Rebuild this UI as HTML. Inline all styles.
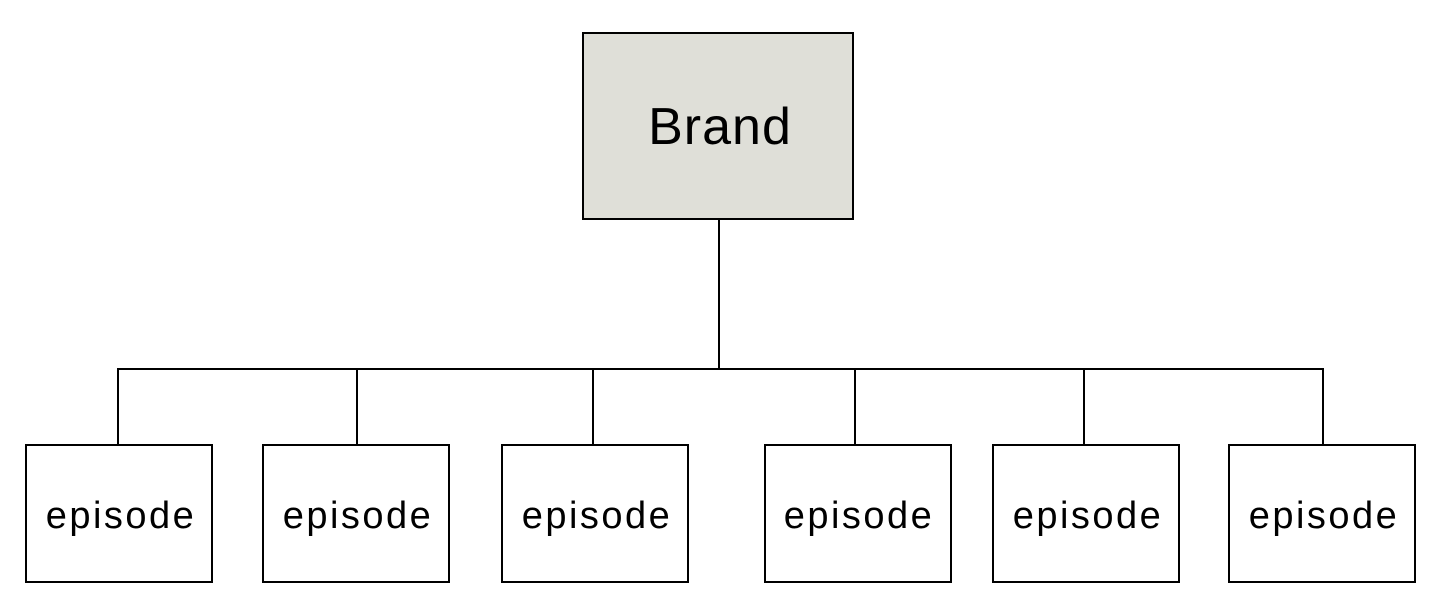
<!DOCTYPE html>
<html><head><style>
html,body{margin:0;padding:0;background:#fff;width:1434px;height:616px;overflow:hidden}
svg{display:block}
text{font-family:"Liberation Sans",sans-serif;fill:#000}
</style></head><body>
<svg width="1434" height="616" viewBox="0 0 1434 616">
<g stroke="#000" stroke-width="2" fill="none">
<rect x="583" y="33" width="270" height="186" fill="#dfdfd8"/>
<line x1="719" y1="219" x2="719" y2="369"/>
<line x1="117" y1="369" x2="1324" y2="369"/>
<line x1="118" y1="369" x2="118" y2="445"/>
<line x1="357" y1="369" x2="357" y2="445"/>
<line x1="593" y1="369" x2="593" y2="445"/>
<line x1="855" y1="369" x2="855" y2="445"/>
<line x1="1084" y1="369" x2="1084" y2="445"/>
<line x1="1323" y1="369" x2="1323" y2="445"/>
<rect x="26" y="445" width="186" height="137" fill="#fff"/>
<rect x="263" y="445" width="186" height="137" fill="#fff"/>
<rect x="502" y="445" width="186" height="137" fill="#fff"/>
<rect x="765" y="445" width="186" height="137" fill="#fff"/>
<rect x="993" y="445" width="186" height="137" fill="#fff"/>
<rect x="1229" y="445" width="186" height="137" fill="#fff"/>
</g>
<text x="720" y="144" font-size="52" text-anchor="middle" letter-spacing="1">Brand</text>
<g font-size="38" text-anchor="middle" letter-spacing="2.5">
<text x="121" y="528">episode</text>
<text x="358" y="528">episode</text>
<text x="597" y="528">episode</text>
<text x="859" y="528">episode</text>
<text x="1088" y="528">episode</text>
<text x="1324" y="528">episode</text>
</g>
</svg>
</body></html>
